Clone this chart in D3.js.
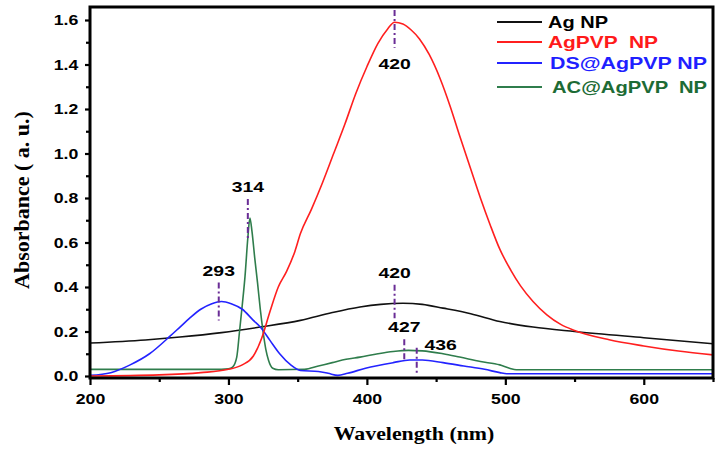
<!DOCTYPE html>
<html><head><meta charset="utf-8">
<script src="https://cdn.jsdelivr.net/npm/d3@7/dist/d3.min.js"></script>
<style>body{margin:0;background:#fff}svg{display:block}</style>
</head><body>
<svg id="chart" width="724" height="450"></svg>
<script>
// ---- data ----
const agWl  = [200,240,265,295,323,352,375,395,410,426,440,455,475,496,520,550,600,650];
const agAbs = [0.148,0.162,0.175,0.195,0.22,0.25,0.285,0.31,0.322,0.327,0.322,0.305,0.28,0.245,0.22,0.2,0.172,0.145];

const pvpWl  = [200,250,280,300,310,318,324,330,336,342,348,352,360,368,376,384,392,400,408,415,420,426,432,438,445,453,460,467,475,482,489,496,504,511,520,530,540,550,575,600,625,650];
const pvpAbs = [0.0,0.005,0.015,0.03,0.05,0.09,0.17,0.29,0.40,0.47,0.56,0.64,0.75,0.87,1.0,1.13,1.27,1.39,1.495,1.56,1.59,1.582,1.555,1.515,1.445,1.335,1.215,1.08,0.93,0.80,0.68,0.57,0.475,0.405,0.335,0.275,0.232,0.205,0.163,0.135,0.112,0.095];

const dsWl  = [200,215,229,243,258,265,272,280,288,295,302,310,318,323,330,337,345,352,365,372,379,386,399,419,431,440,455,470,485,496,501,650];
const dsAbs = [0.003,0.015,0.05,0.10,0.18,0.22,0.26,0.30,0.325,0.335,0.325,0.30,0.25,0.22,0.16,0.10,0.05,0.025,0.02,0.012,0.003,0.012,0.035,0.06,0.072,0.072,0.06,0.045,0.03,0.015,0.01,0.01];

const acWl  = [200,295,300,303,306,308,310,312,314,315.5,317,319,321,323,325,327,329,332,336,355,365,375,385,395,408,419,430,440,455,467,482,496,503,508,650];
const acAbs = [0.03,0.03,0.032,0.04,0.085,0.2,0.32,0.45,0.62,0.71,0.65,0.53,0.42,0.3,0.2,0.12,0.07,0.035,0.028,0.03,0.045,0.06,0.075,0.085,0.1,0.11,0.115,0.113,0.1,0.085,0.065,0.05,0.035,0.028,0.028];

const seriesNames  = ["Ag NP","AgPVP  NP","DS@AgPVP NP","AC@AgPVP  NP"];
const seriesColors = ["#111111","#ff1f1f","#2323ff","#2f7d4c"];
const legendColors = ["#000000","#ff1a1a","#1f1fff","#1d6b35"];

const xTicks = [200,300,400,500,600];
const xMinor = [250,350,450,550,650];
const yTicks = [0,0.2,0.4,0.6,0.8,1.0,1.2,1.4,1.6];
const yMinor = [0.1,0.3,0.5,0.7,0.9,1.1,1.3,1.5];

const annoWl   = [420,314,293,420,427,436];
const annoText = ["420","314","293","420","427","436"];
const annoMid  = [1.56,0.705,0.335,0.335,0.115,0.07];
const annoHalf = [0.085,0.09,0.085,0.075,0.05,0.057];

// ---- layout ----
const L = 90, R = 713, T = 7, B = 378;
const svg = d3.select("#chart");
const x = d3.scaleLinear().domain([200,650]).range([L,R]);
const y = d3.scaleLinear().domain([0,1.6]).range([376,20]);

const sans = "'Liberation Sans', Arial, sans-serif";
const serif = "'Liberation Serif', 'DejaVu Serif', serif";

// curves
const line = d3.line().x(d=>x(d[0])).y(d=>y(d[1])).curve(d3.curveMonotoneX);
const series = [[agWl,agAbs],[pvpWl,pvpAbs],[dsWl,dsAbs],[acWl,acAbs]];
svg.append("clipPath").attr("id","clip").append("rect")
  .attr("x",L).attr("y",T).attr("width",R-L).attr("height",B-T);
const gLines = svg.append("g").attr("clip-path","url(#clip)");
[0,3,2,1].forEach(i=>{
  const [w,a] = series[i];
  gLines.append("path").datum(w.map((v,k)=>[v,a[k]]))
    .attr("d",line).attr("fill","none")
    .attr("stroke",seriesColors[i]).attr("stroke-width",1.6);
});

// axes
const ax = svg.append("g").attr("transform",`translate(0,${B})`)
  .call(d3.axisBottom(x).tickValues(xTicks).tickSize(7).tickPadding(9).tickFormat(d3.format("d")));
const axm = svg.append("g").attr("transform",`translate(0,${B})`)
  .call(d3.axisBottom(x).tickValues(xMinor).tickSize(4).tickFormat(""));
const ay = svg.append("g").attr("transform",`translate(${L},0)`)
  .call(d3.axisLeft(y).tickValues(yTicks).tickSize(5).tickPadding(4.6).tickFormat(d3.format(".1f")));
const aym = svg.append("g").attr("transform",`translate(${L},0)`)
  .call(d3.axisLeft(y).tickValues(yMinor).tickSize(4).tickFormat(""));
[ax,axm,ay,aym].forEach(g=>{
  g.select(".domain").remove();
  g.selectAll("line").attr("stroke","#000").attr("stroke-width",2.2);
  g.selectAll("text").attr("font-family",sans).attr("font-weight","bold")
    .attr("font-size",14.5).attr("fill","#000").attr("transform","scale(1.22,1)");
});
ax.selectAll("text").attr("x",0);

// frame
svg.append("rect").attr("x",L).attr("y",T).attr("width",R-L).attr("height",B-T)
  .attr("fill","none").attr("stroke","#000").attr("stroke-width",3);

// axis titles
svg.append("text").attr("transform","translate(414,440) scale(1.18,1)")
  .attr("text-anchor","middle").attr("font-family",serif).attr("font-weight","bold")
  .attr("font-size",18.5).text("Wavelength (nm)");
svg.append("text").attr("transform","translate(29,200) rotate(-90)")
  .attr("text-anchor","middle").attr("font-family",serif).attr("font-weight","bold")
  .attr("font-size",22).text("Absorbance ( a. u.)");

// annotations
const purple = "#6a2d96";
annoWl.forEach((w,i)=>{
  const top = y(annoMid[i]+annoHalf[i]), bot = y(annoMid[i]-annoHalf[i]);
  svg.append("line").attr("x1",x(w)).attr("x2",x(w)).attr("y1",top).attr("y2",bot)
    .attr("stroke",purple).attr("stroke-width",2).attr("stroke-dasharray","6,3,2,3");
  let lx = x(w), ly = top - 7;
  if (i===0) ly = bot + 21;
  if (i===5) { lx = x(w)+24; ly = top + 2; }
  svg.append("text").attr("transform",`translate(${lx},${ly}) scale(1.25,1)`)
    .attr("text-anchor","middle").attr("font-family",sans).attr("font-weight","bold")
    .attr("font-size",15.5).attr("fill","#000").text(annoText[i]);
});

// legend
const legY = [22,42,63,87];
const legW = [60,110,157,155];
const legX = [548,548,550,552];
seriesNames.forEach((n,i)=>{
  svg.append("line").attr("x1",497).attr("x2",542).attr("y1",legY[i]).attr("y2",legY[i])
    .attr("stroke",seriesColors[i]).attr("stroke-width",1.8);
  svg.append("text").attr("x",legX[i]).attr("y",legY[i]+6)
    .attr("font-family",sans).attr("font-weight","bold").attr("font-size",17)
    .attr("fill",legendColors[i]).style("white-space","pre")
    .attr("textLength",legW[i]).attr("lengthAdjust","spacingAndGlyphs").text(n);
});
</script>
</body></html>
